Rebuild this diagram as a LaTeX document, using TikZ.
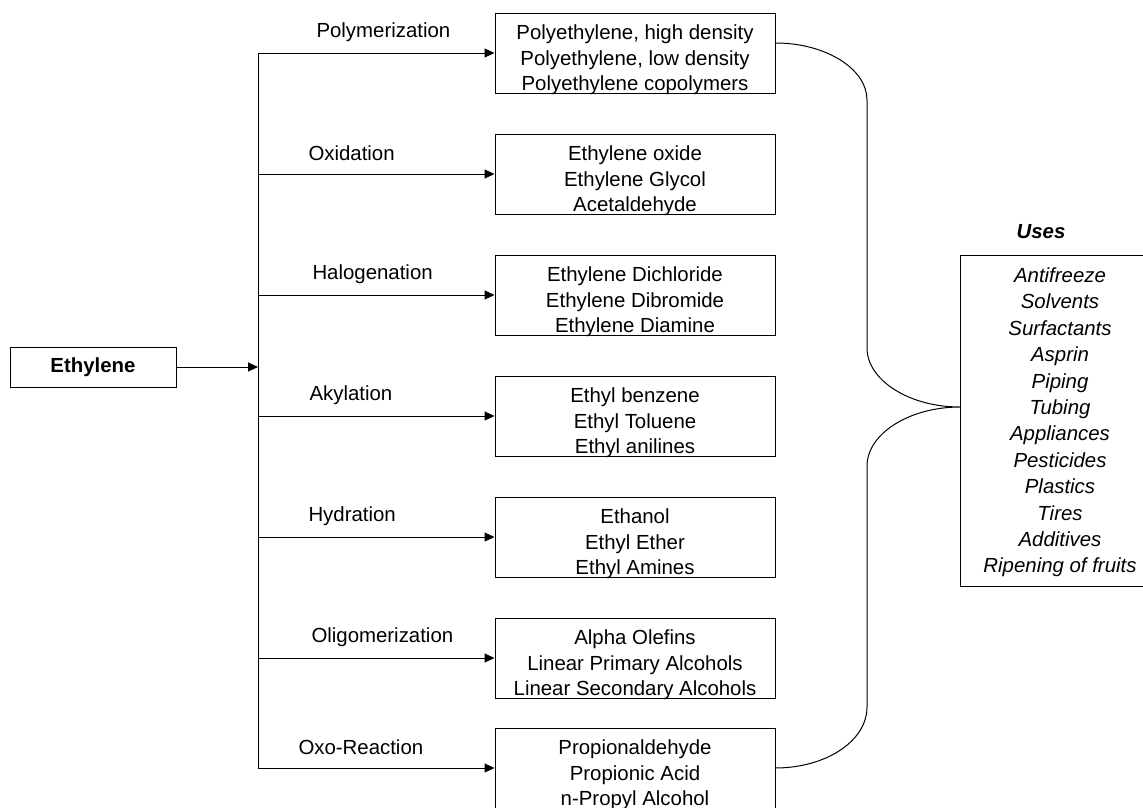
\documentclass[tikz,border=0pt]{standalone}
\usepackage{fontspec}
\setmainfont{Liberation Sans}
\usetikzlibrary{arrows.meta}
\begin{document}
\begin{tikzpicture}[x=1pt,y=-1pt, line width=1pt,
  txt/.style={font=\fontsize{20.4}{25.5}\selectfont},
  prodbox/.style={draw, minimum width=280pt, minimum height=80pt, inner sep=0pt},
  prodtxt/.style={txt, inner sep=0pt, align=center},
  lbl/.style={txt, anchor=west, inner sep=0pt},
  arr/.style={-{Triangle[length=10pt,width=9pt]}},
]
\clip (0,0) rectangle (1143,807);

% source
\node[draw, minimum width=166pt, minimum height=40pt, inner sep=0pt,
      font=\bfseries\fontsize{20.4}{25.5}\selectfont] (eth) at (93,367) {Ethylene};

% product boxes
\node[prodbox] (p1) at (635,53)  {};
\node[prodbox] (p2) at (635,174) {};
\node[prodbox] (p3) at (635,295) {};
\node[prodbox] (p4) at (635,416) {};
\node[prodbox] (p5) at (635,537) {};
\node[prodbox] (p6) at (635,658) {};
\node[prodbox, minimum height=84pt] (p7) at (635,770) {};

\node[prodtxt] (p1t) at ([yshift=-7pt]p1.center) {Polyethylene, high density\\Polyethylene, low density\\Polyethylene copolymers};
\node[prodtxt] (p2t) at ([yshift=-7pt]p2.center) {Ethylene oxide\\Ethylene Glycol\\Acetaldehyde};
\node[prodtxt] (p3t) at ([yshift=-7pt]p3.center) {Ethylene Dichloride\\Ethylene Dibromide\\Ethylene Diamine};
\node[prodtxt] (p4t) at ([yshift=-7pt]p4.center) {Ethyl benzene\\Ethyl Toluene\\Ethyl anilines};
\node[prodtxt] (p5t) at ([yshift=-7pt]p5.center) {Ethanol\\Ethyl Ether\\Ethyl Amines};
\node[prodtxt] (p6t) at ([yshift=-7pt]p6.center) {Alpha Olefins\\Linear Primary Alcohols\\Linear Secondary Alcohols};
\node[prodtxt] (p7t) at (635,775) {Propionaldehyde\\Propionic Acid\\n-Propyl Alcohol};

% reaction labels
\node[lbl] (l1) at (316,32)  {Polymerization};
\node[lbl] (l2) at (308,153) {Oxidation};
\node[lbl] (l3) at (312,274) {Halogenation};
\node[lbl] (l4) at (309,395) {Akylation};
\node[lbl] (l5) at (308,516) {Hydration};
\node[lbl] (l6) at (311,637) {Oligomerization};
\node[lbl] (l7) at (298,747) {Oxo-Reaction};

% trunk
\coordinate (t1) at (258,53);
\coordinate (t2) at (258,174);
\coordinate (t3) at (258,295);
\coordinate (t4) at (258,416);
\coordinate (t5) at (258,537);
\coordinate (t6) at (258,658);
\coordinate (t7) at (258,768);
\coordinate (te) at (258,367);
\draw (t1) -- (t7);
\draw[arr] (eth) -- (te);
\foreach \i in {1,...,7} { \draw[arr] (t\i) -- (t\i -| p\i.west); }

% uses
\node[font=\bfseries\itshape\fontsize{20.4}{25.5}\selectfont] (usest) at (1041,232) {Uses};
\node[draw, minimum width=200pt, minimum height=331pt, inner sep=0pt] (uses) at (1060,420.5) {};
\node[align=center, inner sep=0pt, font=\itshape\fontsize{20.4}{26.4}\selectfont] (usest2) at (1060,422.5)
  {Antifreeze\\Solvents\\Surfactants\\Asprin\\Piping\\Tubing\\Appliances\\Pesticides\\Plastics\\Tires\\Additives\\Ripening of fruits};

% brace
\coordinate (tip) at (960,407);
\coordinate (bend) at (775,768);
\draw ([yshift=10pt]p1.east) .. controls (826,43) and (867,69) .. (867,100)
  -- (867,348) .. controls (867,380) and (909,407) .. (tip)
  .. controls (909,407) and (867,434) .. (867,466)
  -- (867,707) .. controls (867,741) and (826,768) .. (bend);
\end{tikzpicture}
\end{document}
